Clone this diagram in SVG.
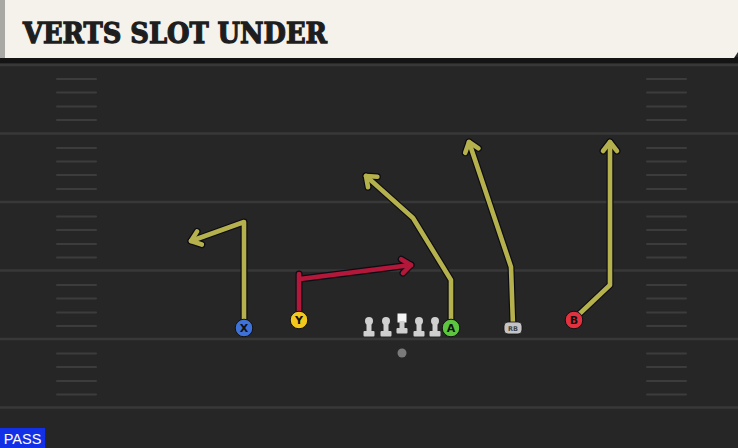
<svg xmlns="http://www.w3.org/2000/svg" width="738" height="448" viewBox="0 0 738 448">
<defs>
<style>
.yard{stroke:#383838;stroke-width:2.5}
.hash{stroke:#3c3c3c;stroke-width:2;stroke-linecap:round}
.out{fill:none;stroke:#0c0c14;stroke-width:7;stroke-linejoin:round;stroke-linecap:round}
.rt{fill:none;stroke:#b5b14c;stroke-width:4.6;stroke-linejoin:round;stroke-linecap:round}
.rt.red{stroke:#b3173a}
.lbl{font-family:"DejaVu Sans","Liberation Sans",sans-serif;font-weight:bold;font-size:11px;text-anchor:middle;fill:#111}
.lm{fill:#cfcfcf}
</style>
<marker id="ao" markerUnits="userSpaceOnUse" markerWidth="30" markerHeight="30" viewBox="-15 -15 30 30" refX="0" refY="0" orient="auto"><path d="M-9,-7 L0,0 L-9,7" fill="none" stroke="#0c0c14" stroke-width="7" stroke-linejoin="round" stroke-linecap="round"/></marker>
<marker id="ay" markerUnits="userSpaceOnUse" markerWidth="30" markerHeight="30" viewBox="-15 -15 30 30" refX="0" refY="0" orient="auto"><path d="M-9,-7 L0,0 L-9,7" fill="none" stroke="#b5b14c" stroke-width="4.6" stroke-linejoin="round" stroke-linecap="round"/></marker>
<marker id="ar" markerUnits="userSpaceOnUse" markerWidth="30" markerHeight="30" viewBox="-15 -15 30 30" refX="0" refY="0" orient="auto"><path d="M-9,-7 L0,0 L-9,7" fill="none" stroke="#b3173a" stroke-width="4.6" stroke-linejoin="round" stroke-linecap="round"/></marker>
<g id="lineman"><circle cx="0" cy="-7" r="4" class="lm"/><rect x="-2.5" y="-7" width="5" height="11" class="lm"/><rect x="-5.5" y="3" width="11" height="5.5" rx="1" class="lm"/></g>
</defs>
<rect x="0" y="0" width="738" height="448" fill="#262626"/>
<g id="field">
<line class="yard" x1="0" y1="65" x2="738" y2="65"/>
<line class="yard" x1="0" y1="133.5" x2="738" y2="133.5"/>
<line class="yard" x1="0" y1="202" x2="738" y2="202"/>
<line class="yard" x1="0" y1="270.5" x2="738" y2="270.5"/>
<line class="yard" x1="0" y1="339" x2="738" y2="339"/>
<line class="yard" x1="0" y1="407.5" x2="738" y2="407.5"/>
<g id="hashes">
<path class="hash" d="M57,79H96M57,92.5H96M57,106.5H96M57,120H96M57,148H96M57,161.5H96M57,175H96M57,189H96M57,216.5H96M57,230H96M57,244H96M57,257.5H96M57,285H96M57,298.5H96M57,312.5H96M57,326H96M57,353.5H96M57,367H96M57,381H96M57,394.5H96"/>
<path class="hash" d="M647,79H686M647,92.5H686M647,106.5H686M647,120H686M647,148H686M647,161.5H686M647,175H686M647,189H686M647,216.5H686M647,230H686M647,244H686M647,257.5H686M647,285H686M647,298.5H686M647,312.5H686M647,326H686M647,353.5H686M647,367H686M647,381H686M647,394.5H686"/>
</g>
</g>
<g id="header">
<rect x="0" y="57" width="738" height="6" fill="#141414"/>
<polygon points="0,0 738,0 738,52 734,58 0,58" fill="#f4f2eb"/>
<rect x="0" y="0" width="5" height="58" fill="#a8a8a4"/>
<text x="23" y="42.5" font-family="'DejaVu Serif','Liberation Serif',serif" font-weight="bold" font-size="28" fill="#1e1e1e" stroke="#1e1e1e" stroke-width="1.3" textLength="304" lengthAdjust="spacingAndGlyphs">VERTS SLOT UNDER</text>
</g>
<g id="connectors">
<path class="out" d="M244,326 V222 L191,241" marker-end="url(#ao)"/>
<path class="out" d="M299,318 V274 M300,279 L411,265" marker-end="url(#ao)"/>
<path class="out" d="M451,326 V280 L413,218 L366,176" marker-end="url(#ao)"/>
<path class="out" d="M513,326 L511,267 L469,142" marker-end="url(#ao)"/>
<path class="out" d="M574,319 L610,285 V142" marker-end="url(#ao)"/>
<path class="rt" d="M244,326 V222 L191,241" marker-end="url(#ay)"/>
<path class="rt red" d="M299,318 V274 M300,279 L411,265" marker-end="url(#ar)"/>
<path class="rt" d="M451,326 V280 L413,218 L366,176" marker-end="url(#ay)"/>
<path class="rt" d="M513,326 L511,267 L469,142" marker-end="url(#ay)"/>
<path class="rt" d="M574,319 L610,285 V142" marker-end="url(#ay)"/>
</g>
<g id="line-ol">
<use href="#lineman" x="369" y="328"/>
<use href="#lineman" x="386" y="328"/>
<g id="center"><rect x="397.5" y="313.5" width="9" height="9" fill="#f4f4f4"/><rect x="399.5" y="321" width="5" height="8" class="lm"/><rect x="396.5" y="328" width="11" height="5.5" rx="1" class="lm"/></g>
<use href="#lineman" x="419" y="328"/>
<use href="#lineman" x="435" y="328"/>
</g>
<g id="qb"><circle cx="402" cy="353" r="4.5" fill="#7a7a7a"/></g>
<g id="X"><circle cx="244" cy="328" r="8.8" fill="#3f72d8" stroke="#111" stroke-width="1"/><text class="lbl" x="244" y="332">X</text></g>
<g id="Y"><circle cx="299" cy="320" r="8.8" fill="#f2c81c" stroke="#111" stroke-width="1"/><text class="lbl" x="299" y="324">Y</text></g>
<g id="A"><circle cx="451" cy="328" r="8.8" fill="#5cc63e" stroke="#111" stroke-width="1"/><text class="lbl" x="451" y="332">A</text></g>
<g id="B"><circle cx="574" cy="320" r="8.8" fill="#e2313f" stroke="#111" stroke-width="1"/><text class="lbl" x="574" y="324">B</text></g>
<g id="RB"><rect x="504" y="322" width="18" height="12" rx="4" fill="#c4c4c4" stroke="#111" stroke-width="0.8"/><text x="513" y="330.5" font-family="'DejaVu Sans','Liberation Sans',sans-serif" font-size="6.5" font-weight="bold" text-anchor="middle" fill="#444">RB</text></g>
<g id="pass"><rect x="0" y="428" width="45" height="20" fill="#1230e6"/><text x="22.5" y="444" font-family="'Liberation Sans','DejaVu Sans',sans-serif" font-size="14.5" fill="#ffffff" text-anchor="middle">PASS</text></g>
</svg>
